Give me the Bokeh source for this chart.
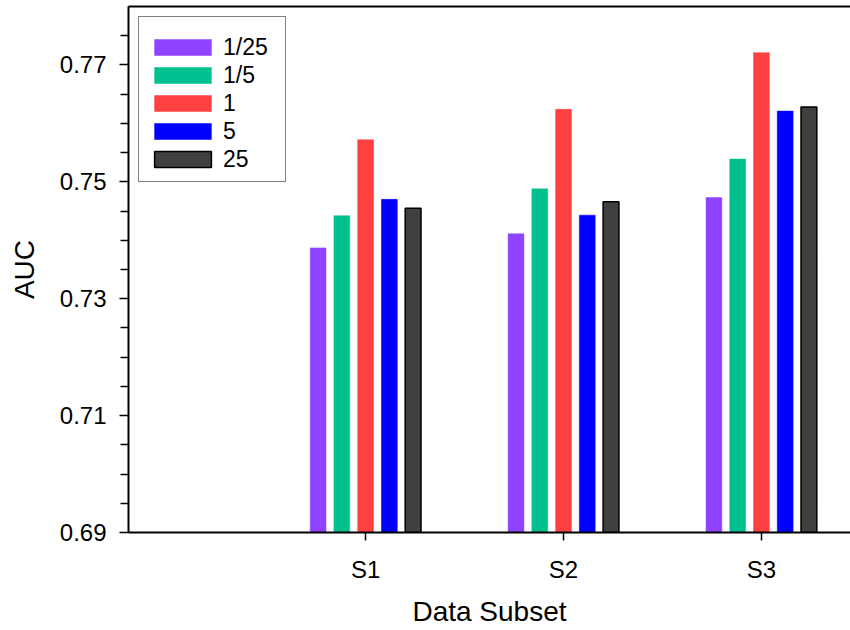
from bokeh.plotting import figure
from bokeh.models import (ColumnDataSource, FixedTicker, LinearAxis, Range1d,
                          NumeralTickFormatter, Legend)
from bokeh.transform import dodge
from bokeh.embed import file_html
from bokeh.resources import INLINE

# AUC per data subset for each weighting ratio
subsets = ["S1", "S2", "S3"]
positions = [1, 2, 3]
ratios = ["1/25", "1/5", "1", "5", "25"]
auc_1_25 = [0.7387, 0.7411, 0.7473]
auc_1_5 = [0.7442, 0.7488, 0.7539]
auc_1 = [0.7572, 0.7624, 0.7721]
auc_5 = [0.7470, 0.7443, 0.7621]
auc_25 = [0.7455, 0.7466, 0.7628]

y_ticks = [0.69, 0.71, 0.73, 0.75, 0.77]
y_minor = [0.695, 0.70, 0.705, 0.715, 0.72, 0.725, 0.735, 0.74, 0.745,
           0.755, 0.76, 0.765, 0.775]

series = [auc_1_25, auc_1_5, auc_1, auc_5, auc_25]
colors = ["#8F42FF", "#00C08F", "#FF4040", "#0000FF", "#404040"]
outlines = [None, None, None, None, "#000000"]
offsets = [-0.24, -0.12, 0.0, 0.12, 0.24]

data = {"pos": positions}
for i, s in enumerate(series):
    data[f"s{i}"] = s
source = ColumnDataSource(data)

FONT = "Liberation Sans"

p = figure(width=850, height=630, output_backend="svg", toolbar_location=None,
           x_range=Range1d(-0.198, 3.45), y_range=Range1d(0.69, 0.78),
           min_border_left=128, min_border_top=6, min_border_right=0,
           min_border_bottom=98)
p.outline_line_color = None
p.grid.visible = False
p.background_fill_color = "white"

renderers = []
for i, lab in enumerate(ratios):
    r = p.vbar(x=dodge("pos", offsets[i], range=p.x_range), top=f"s{i}",
               bottom=0.0, width=0.08, source=source,
               fill_color=colors[i],
               line_color=outlines[i] if outlines[i] else colors[i],
               line_width=1.5 if outlines[i] else 0.5)
    renderers.append((lab, [r]))

# x axis
xa = p.xaxis[0]
xa.ticker = FixedTicker(ticks=positions)
xa.major_label_overrides = {pos: name for pos, name in zip(positions, subsets)}
xa.minor_tick_line_color = None
xa.major_tick_in = 0
xa.major_tick_out = 8
xa.axis_label = "Data Subset"

# y axis
ya = p.yaxis[0]
ya.ticker = FixedTicker(ticks=y_ticks, minor_ticks=y_minor)
ya.formatter = NumeralTickFormatter(format="0.00")
ya.major_tick_in = 0
ya.major_tick_out = 9
ya.minor_tick_in = 0
ya.minor_tick_out = 8
ya.axis_label = "AUC"

for ax in (xa, ya):
    ax.axis_line_width = 2
    ax.axis_line_color = "black"
    ax.major_tick_line_width = 1.5
    ax.minor_tick_line_width = 1.5
    ax.major_label_text_font = FONT
    ax.major_label_text_font_size = "24px"
    ax.major_label_text_color = "black"
    ax.axis_label_text_font = FONT
    ax.axis_label_text_font_size = "28px"
    ax.axis_label_text_font_style = "normal"
    ax.axis_label_text_color = "black"

xa.major_label_standoff = 15
xa.axis_label_standoff = 10
ya.major_label_standoff = 13
ya.axis_label_standoff = 17

# top frame edge
top = LinearAxis(ticker=FixedTicker(ticks=[]), axis_line_width=2,
                 major_tick_line_color=None, minor_tick_line_color=None,
                 major_label_text_font_size="0px")
p.add_layout(top, "above")

legend = Legend(items=renderers, location="top_left")
legend.title = " "
legend.title_text_font_size = "4px"
legend.title_standoff = 3
legend.margin = 10
legend.padding = 8
legend.spacing = 0
legend.glyph_width = 71
legend.glyph_height = 20
legend.label_height = 28
legend.label_width = 54
legend.label_standoff = 5
legend.label_text_font = FONT
legend.label_text_font_size = "23px"
legend.label_text_color = "black"
legend.border_line_color = "black"
legend.border_line_width = 1.5
legend.background_fill_alpha = 1.0
p.add_layout(legend)

open("out.html", "w").write(file_html(p, INLINE))
